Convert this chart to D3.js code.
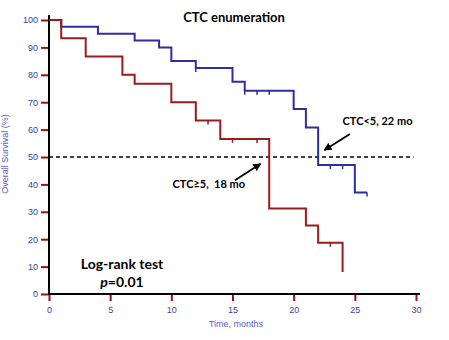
<!DOCTYPE html>
<html lang="en">
<head>
  <meta charset="UTF-8">
  <title>CTC enumeration</title>
  <style>
    html, body { margin: 0; padding: 0; background: #fff; overflow: hidden; }
    svg { display: block; }
  </style>
</head>
<body>
  <script src="https://d3js.org/d3.v7.min.js"></script>
  <script>
    const width = 449;
    const height = 340;
    const padding = { left: 49, right: 33, top: 20, bottom: 46 };
    const innerWidth = width - padding.left - padding.right;
    const innerHeight = height - padding.top - padding.bottom;

    // Kaplan-Meier steps: [time, survival after the step]
    const lowTimes = [0, 1, 4, 7, 9, 10, 12, 15, 16, 20, 21, 22, 25];
    const lowSurv = [100, 97.5, 95, 92.5, 90, 85, 82.5, 77.5, 74.2, 67.5, 60.8, 47.1, 37];
    const lowEnd = 26;
    const lowCensor = [12, 16, 17, 18, 23, 24, 26];

    const highTimes = [0, 1, 3, 6, 7, 10, 12, 14, 18, 21, 22, 24];
    const highSurv = [100, 93.3, 86.7, 80, 76.7, 70, 63.3, 56.6, 31.2, 25, 18.7, 8];
    const highEnd = 24;
    const highCensor = [13, 15, 17, 23];

    const xTicks = [0, 5, 10, 15, 20, 25, 30];
    const yTicks = [0, 10, 20, 30, 40, 50, 60, 70, 80, 90, 100];

    const x = d3.scaleLinear().domain([0, 30]).range([0, innerWidth]);
    const y = d3.scaleLinear().domain([0, 100]).range([innerHeight, 0]);

    const svg = d3.select('body')
      .append('svg')
      .attr('width', width)
      .attr('height', height);

    const g = svg.append('g')
      .attr('transform', `translate(${padding.left}, ${padding.top})`);

    const tickColor = '#9b1111';
    const labelColor = '#3c3ca8';

    // y axis
    const yAxis = g.append('g')
      .call(d3.axisLeft(y).tickValues(yTicks).tickSize(8).tickPadding(3));
    yAxis.select('.domain').remove();
    yAxis.selectAll('line').attr('stroke', tickColor).attr('stroke-width', 2);
    yAxis.selectAll('text')
      .attr('fill', labelColor)
      .style('font', '9px "Liberation Sans", Arial, sans-serif');

    // x axis
    const xAxis = g.append('g')
      .attr('transform', `translate(0, ${innerHeight})`)
      .call(d3.axisBottom(x).tickValues(xTicks).tickSize(7).tickPadding(6));
    xAxis.select('.domain').remove();
    xAxis.selectAll('line').attr('stroke', tickColor).attr('stroke-width', 2);
    xAxis.selectAll('text')
      .attr('fill', labelColor)
      .style('font', '9px "Liberation Sans", Arial, sans-serif');

    // axis lines
    g.append('line')
      .attr('x1', 0).attr('x2', 0)
      .attr('y1', y(100) - 5).attr('y2', innerHeight + 1)
      .attr('stroke', '#000').attr('stroke-width', 2);
    g.append('line')
      .attr('x1', -1).attr('x2', x(30) + 4)
      .attr('y1', innerHeight).attr('y2', innerHeight)
      .attr('stroke', '#000').attr('stroke-width', 2);

    // median line
    g.append('line')
      .attr('x1', x(0)).attr('x2', x(29.8))
      .attr('y1', y(50)).attr('y2', y(50))
      .attr('stroke', '#000')
      .attr('stroke-width', 1.5)
      .attr('stroke-dasharray', '4,3');

    function stepPoints(times, surv, end) {
      const pts = times.map((t, i) => ({ t, s: surv[i] }));
      pts.push({ t: end, s: surv[surv.length - 1] });
      return pts;
    }

    function survAt(times, surv, t) {
      let s = surv[0];
      times.forEach((tt, i) => { if (tt <= t) s = surv[i]; });
      return s;
    }

    const line = d3.line()
      .x(d => x(d.t))
      .y(d => y(d.s))
      .curve(d3.curveStepAfter);

    const series = [
      { times: lowTimes, surv: lowSurv, end: lowEnd, censor: lowCensor, color: '#2e2ea0' },
      { times: highTimes, surv: highSurv, end: highEnd, censor: highCensor, color: '#9b1c1c' },
    ];

    series.forEach(sr => {
      g.append('path')
        .datum(stepPoints(sr.times, sr.surv, sr.end))
        .attr('fill', 'none')
        .attr('stroke', sr.color)
        .attr('stroke-width', 2)
        .attr('d', line);

      g.selectAll(null)
        .data(sr.censor)
        .join('line')
        .attr('x1', d => x(d)).attr('x2', d => x(d))
        .attr('y1', d => y(survAt(sr.times, sr.surv, d)))
        .attr('y2', d => y(survAt(sr.times, sr.surv, d)) + 4)
        .attr('stroke', sr.color)
        .attr('stroke-width', 1.5);
    });

    // arrows
    const defs = svg.append('defs');
    defs.append('marker')
      .attr('id', 'arrow')
      .attr('viewBox', '0 0 10 10')
      .attr('refX', 9).attr('refY', 5)
      .attr('markerWidth', 4.5).attr('markerHeight', 4.5)
      .attr('orient', 'auto')
      .append('path')
      .attr('d', 'M0,0 L10,5 L0,10 z')
      .attr('fill', '#000');

    g.append('line')
      .attr('x1', x(24.6)).attr('y1', y(58.4))
      .attr('x2', x(22.5)).attr('y2', y(52.5))
      .attr('stroke', '#000').attr('stroke-width', 1.8)
      .attr('marker-end', 'url(#arrow)');

    g.append('line')
      .attr('x1', x(15.2)).attr('y1', y(41.5))
      .attr('x2', x(17.3)).attr('y2', y(47.5))
      .attr('stroke', '#000').attr('stroke-width', 1.8)
      .attr('marker-end', 'url(#arrow)');

    const bold = 'bold 11px Lato, "Open Sans", sans-serif';

    g.append('text')
      .attr('x', x(24.0)).attr('y', y(61.5))
      .style('font', bold)
      .text('CTC<5, 22 mo');

    g.append('text')
      .attr('x', x(10.1)).attr('y', y(38.7))
      .style('font', bold)
      .style('white-space', 'pre')
      .text('CTC≥5,  18 mo');

    // title
    svg.append('text')
      .attr('x', 234).attr('y', 22)
      .attr('text-anchor', 'middle')
      .style('font', 'bold 13px Lato, "Open Sans", sans-serif')
      .text('CTC enumeration');

    // log-rank
    svg.append('text')
      .attr('x', 122).attr('y', 269)
      .attr('text-anchor', 'middle')
      .style('font', 'bold 14px Lato, "Open Sans", sans-serif')
      .text('Log-rank test');

    const p = svg.append('text')
      .attr('x', 122).attr('y', 287)
      .attr('text-anchor', 'middle')
      .style('font', 'bold 14px Lato, "Open Sans", sans-serif');
    p.append('tspan').style('font-style', 'italic').text('p');
    p.append('tspan').text('=0.01');

    // axis titles
    svg.append('text')
      .attr('transform', 'translate(8, 154) rotate(-90)')
      .attr('text-anchor', 'middle')
      .attr('fill', '#5a5ac8')
      .style('font', '9px "Liberation Sans", Arial, sans-serif')
      .text('Overall Survival (%)');

    svg.append('text')
      .attr('x', 236).attr('y', 327)
      .attr('text-anchor', 'middle')
      .attr('fill', '#5a5ac8')
      .style('font', '9px "Liberation Sans", Arial, sans-serif')
      .text('Time, months');
  </script>
</body>
</html>
